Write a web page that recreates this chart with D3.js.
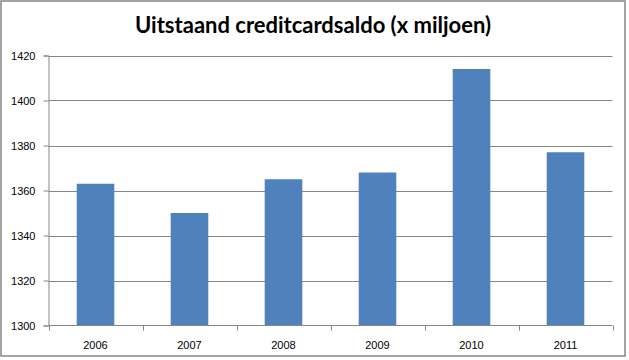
<!DOCTYPE html>
<html><head><meta charset="utf-8">
<script src="https://cdn.jsdelivr.net/npm/d3@7"></script>
<style>body{margin:0;background:#fff}svg{display:block}</style>
</head><body>
<script>
const title = "Uitstaand creditcardsaldo (x miljoen)";
const categories = ["2006","2007","2008","2009","2010","2011"];
const values = [1363, 1350, 1365, 1368, 1414, 1377];
const yTicks = [1300,1320,1340,1360,1380,1400,1420];

(function(){
const W = 629, H = 360;
const svg = d3.select("body").append("svg").attr("width", W).attr("height", H);
svg.append("rect").attr("x",1).attr("y",1).attr("width",624).attr("height",355)
  .attr("fill","#fff").attr("stroke","#868686").attr("stroke-width",1.5);

const mLeft = 48.5, mRight = 612.5, mTop = 55.5, mBottom = 325.5;
const x = d3.scaleBand().domain(categories).range([mLeft,mRight]).paddingInner(0.6).paddingOuter(0.3);
const y = d3.scaleLinear().domain([1300,1420]).range([mBottom, mTop]);

// gridlines
svg.append("g").selectAll("line").data(yTicks.slice(1)).join("line")
  .attr("x1",mLeft).attr("x2",mRight).attr("y1",d=>Math.round(y(d))+0.5).attr("y2",d=>Math.round(y(d))+0.5)
  .attr("stroke","#868686").attr("stroke-width",1);

// bars
svg.append("g").selectAll("rect").data(values).join("rect")
  .attr("x",(d,i)=>x(categories[i])).attr("width",x.bandwidth())
  .attr("y",d=>y(d)).attr("height",d=>y(1300)-y(d)).attr("fill","#4F81BD");

// y axis
const ya = svg.append("g").attr("transform",`translate(${mLeft},0)`)
  .call(d3.axisLeft(y).tickValues(yTicks).tickSize(5).tickPadding(8).tickFormat(d3.format("d")));
ya.selectAll("path,line").attr("stroke","#868686");
ya.selectAll("text").attr("font-family","Liberation Sans, Arial, sans-serif").attr("font-size",11).attr("fill","#000");

// x axis
const xTickPos = d3.range(categories.length+1).map(i=>mLeft + i*x.step());
const xa = svg.append("g").attr("transform",`translate(0,${mBottom})`);
xa.append("line").attr("x1",mLeft).attr("x2",mRight).attr("stroke","#868686");
xa.selectAll("line.t").data(xTickPos).join("line").attr("class","t")
  .attr("x1",d=>Math.round(d)+0.5).attr("x2",d=>Math.round(d)+0.5).attr("y1",0).attr("y2",5).attr("stroke","#868686");
xa.selectAll("text").data(categories).join("text")
  .attr("x",d=>x(d)+x.bandwidth()/2).attr("y",23).attr("text-anchor","middle")
  .attr("font-family","Liberation Sans, Arial, sans-serif").attr("font-size",11).attr("fill","#000").text(d=>d);

svg.append("text").attr("x",313).attr("y",33).attr("text-anchor","middle")
  .attr("font-family","Lato, Open Sans, sans-serif").attr("font-weight","bold").attr("font-size",22)
  .attr("fill","#000").text(title);
})();
</script>
</body></html>
